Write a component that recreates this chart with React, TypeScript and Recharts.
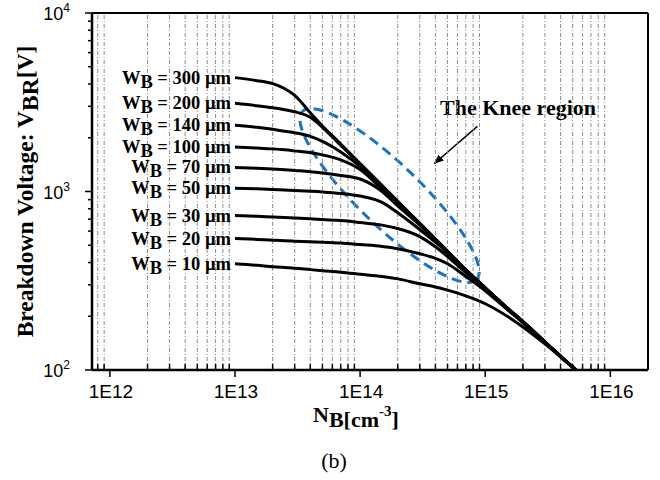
import React from 'react';
import { LineChart, Line, XAxis, YAxis, ReferenceLine, LabelList } from 'recharts';
import * as RC from 'recharts';

// doping concentration N_B [cm^-3] where the curves are sampled
const nB = [
  1e13, 1.5e13, 2e13, 2.5e13, 3e13, 4e13, 5e13, 7e13, 1e14, 1.5e14, 2e14, 3e14, 4e14, 5e14, 7e14, 1e15, 1.5e15, 2e15,
  3e15, 5.3e15,
];

// breakdown voltage [V] per base width
const vbr300 = [4345, 4177, 4018, 3766, 3460, 2760, 2330, 1845, 1436, 1079, 882, 663, 542, 463, 365, 289, 223, 187, 144, 100];
const vbr200 = [3120, 3022, 2944, 2871, 2797, 2604, 2290, 1815, 1425, 1074, 878, 661, 541, 462, 364, 289, 223, 187, 144, 100];
const vbr140 = [2349, 2289, 2230, 2174, 2132, 2037, 1910, 1667, 1385, 1065, 872, 658, 540, 460, 363, 288, 222, 186, 143, 100];
const vbr100 = [1774, 1752, 1733, 1712, 1689, 1650, 1604, 1503, 1329, 1030, 860, 656, 538, 458, 362, 287, 222, 186, 143, 100];
const vbr70 = [1364, 1351, 1338, 1325, 1312, 1292, 1270, 1230, 1175, 1000, 830, 648, 535, 456, 360, 286, 221, 186, 143, 100];
const vbr50 = [1044, 1035, 1026, 1019, 1013, 1003, 994, 975, 943, 870, 760, 612, 520, 453, 357, 285, 221, 185, 143, 100];
const vbr30 = [733, 726, 719, 714, 710, 703, 696, 687, 670, 648, 620, 559, 490, 432, 351, 283, 220, 185, 143, 100];
const vbr20 = [545, 539, 534, 530, 527, 523, 520, 514, 504, 492, 478, 448, 422, 394, 334, 278, 218, 184, 142, 100];
const vbr10 = [394, 386, 379, 375, 372, 365, 360, 353, 344, 334, 324, 304, 292, 280, 260, 235, 200, 174, 140, 100];

const widths = [300, 200, 140, 100, 70, 50, 30, 20, 10];
const series = [vbr300, vbr200, vbr140, vbr100, vbr70, vbr50, vbr30, vbr20, vbr10];

// axis ticks
const xDecades = [1e12, 1e13, 1e14, 1e15, 1e16];
const mults = [1, 2, 3, 4, 5, 6, 7, 8, 9];
const xTicks = [8e11, 9e11, ...xDecades.slice(0, 4).flatMap((d) => mults.map((m) => m * d)), 1e16];
const xMinor = xTicks.filter((t) => !xDecades.includes(t));
const yDecades = [100, 1000, 10000];
const yTicks = [...[100, 1000].flatMap((d) => mults.map((m) => m * d)), 10000];

const X_MIN = 7.2e11;
const X_MAX = 2e16;
const Y_MIN = 100;
const Y_MAX = 10000;

// annotation anchors in data units
const ellipseCenter = { n: 1.72e14, v: 950 };
const arrowFrom = { n: 8.65e14, v: 2318 };
const arrowTo = { n: 3.93e14, v: 1436 };
const kneeText = { n: 4.35e14, v: 2683 };

const data = nB.map((n, i) => {
  const row: Record<string, number> = { n };
  widths.forEach((w, k) => {
    row['w' + w] = series[k][i];
  });
  return row;
});

const SERIF = '"Liberation Serif", "Times New Roman", Times, serif';
const SANS = '"Liberation Sans", Arial, Helvetica, sans-serif';
const BLUE = '#1a73c2';

function XTick({ x, y, payload }: any) {
  const v = payload.value;
  const major = xDecades.includes(v);
  return (
    <g>
      <line x1={x} x2={x} y1={y} y2={major ? y + 7 : y - 6} stroke="#000" strokeWidth={1.5} />
      {major && (
        <text x={x + 1} y={y + 28} textAnchor="middle" fontFamily={SANS} fontSize={19} fill="#000">
          {'1E' + Math.round(Math.log10(v))}
        </text>
      )}
    </g>
  );
}

function YTick({ x, y, payload }: any) {
  const v = payload.value;
  const major = yDecades.includes(v);
  return (
    <g>
      <line x1={x} x2={major ? x - 7 : x - 4} y1={y} y2={y} stroke="#000" strokeWidth={1.5} />
      {major && (
        <text x={x - 22} y={y + 7} textAnchor="end" fontFamily={SANS} fontSize={18} fill="#000">
          10
          <tspan dy={-8} fontSize={12}>
            {Math.round(Math.log10(v))}
          </tspan>
        </text>
      )}
    </g>
  );
}

function WLabel({ x, y, w }: { x: number; y: number; w: number }) {
  return (
    <text x={x - 4} y={y + 6} textAnchor="end" fontFamily={SERIF} fontWeight="bold" fontSize={18.5} fill="#000">
      W<tspan dy={4}>B</tspan>
      <tspan dy={-4}>{` = ${w} µm`}</tspan>
    </text>
  );
}

function Annotations() {
  const hook = (RC as any).usePlotArea;
  const area = (hook ? hook() : null) || { x: 92, y: 13, width: 556, height: 357 };
  const lg = Math.log10;
  const px = (n: number) => area.x + (area.width * (lg(n) - lg(X_MIN))) / (lg(X_MAX) - lg(X_MIN));
  const py = (v: number) => area.y + (area.height * (lg(Y_MAX) - lg(v))) / (lg(Y_MAX) - lg(Y_MIN));
  const cx = px(ellipseCenter.n);
  const cy = py(ellipseCenter.v);
  const right = area.x + area.width;
  const bottom = area.y + area.height;
  return (
    <g>
      <defs>
        <marker id="arrowHead" markerWidth="10" markerHeight="8" refX="9" refY="4" orient="auto" markerUnits="userSpaceOnUse">
          <path d="M0,0 L10,4 L0,8 z" fill="#000" />
        </marker>
      </defs>
      <line x1={area.x} x2={right} y1={area.y} y2={area.y} stroke="#000" strokeWidth={2} />
      <line x1={right} x2={right} y1={area.y} y2={bottom} stroke="#000" strokeWidth={2} />
      <ellipse
        cx={cx}
        cy={cy}
        rx={121}
        ry={31}
        transform={`rotate(44 ${cx} ${cy})`}
        fill="none"
        stroke={BLUE}
        strokeWidth={3}
        strokeDasharray="10 6"
      />
      <line
        x1={px(arrowFrom.n)}
        y1={py(arrowFrom.v)}
        x2={px(arrowTo.n)}
        y2={py(arrowTo.v)}
        stroke="#000"
        strokeWidth={1.5}
        markerEnd="url(#arrowHead)"
      />
      <text x={px(kneeText.n)} y={py(kneeText.v)} fontFamily={SERIF} fontWeight="bold" fontSize={22} fill="#000">
        The Knee region
      </text>
      <text
        transform={`translate(33, ${area.y + area.height / 2}) rotate(-90)`}
        textAnchor="middle"
        fontFamily={SERIF}
        fontWeight="bold"
        fontSize={23.5}
        fill="#000"
      >
        Breakdown Voltage: V<tspan dy={5}>BR</tspan>
        <tspan dy={-5}>[V]</tspan>
      </text>
      <text x={area.x + 221} y={bottom + 52} fontFamily={SERIF} fontWeight="bold" fontSize={22} fill="#000">
        N<tspan dy={5}>B[cm</tspan>
        <tspan dy={-11} fontSize={15}>-3</tspan>
        <tspan dy={11}>]</tspan>
      </text>
      <text x={334} y={bottom + 98} textAnchor="middle" fontFamily={SERIF} fontSize={22} fill="#000">
        (b)
      </text>
    </g>
  );
}

export default function App() {
  return (
    <div style={{ position: 'absolute', left: 0, top: 0, width: 660, height: 480, background: '#fff' }}>
      <LineChart width={660} height={480} data={data} margin={{ top: 13, right: 12, bottom: 70, left: 32 }}>
        {xMinor.map((t) => (
          <ReferenceLine key={t} x={t} stroke="#8c8c8c" strokeWidth={1} strokeDasharray="4 2 1 2" />
        ))}
        <XAxis
          dataKey="n"
          type="number"
          scale="log"
          domain={[X_MIN, X_MAX]}
          ticks={xTicks}
          interval={0}
          allowDataOverflow
          height={40}
          tickSize={0}
          tickMargin={0}
          tickLine={false}
          tick={<XTick />}
          axisLine={{ stroke: '#000', strokeWidth: 2.5 }}
        />
        <YAxis
          type="number"
          scale="log"
          domain={[Y_MIN, Y_MAX]}
          ticks={yTicks}
          interval={0}
          allowDataOverflow
          width={60}
          tickSize={0}
          tickMargin={0}
          tickLine={false}
          tick={<YTick />}
          axisLine={{ stroke: '#000', strokeWidth: 2.5 }}
        />
        {widths.map((w) => (
          <Line
            key={w}
            dataKey={'w' + w}
            type="monotone"
            stroke="#000"
            strokeWidth={3}
            dot={false}
            isAnimationActive={false}
          >
            <LabelList
              dataKey={'w' + w}
              content={(p: any) => (p.index === 0 ? <WLabel x={Number(p.x)} y={Number(p.y)} w={w} /> : null)}
            />
          </Line>
        ))}
        <Annotations />
      </LineChart>
    </div>
  );
}
